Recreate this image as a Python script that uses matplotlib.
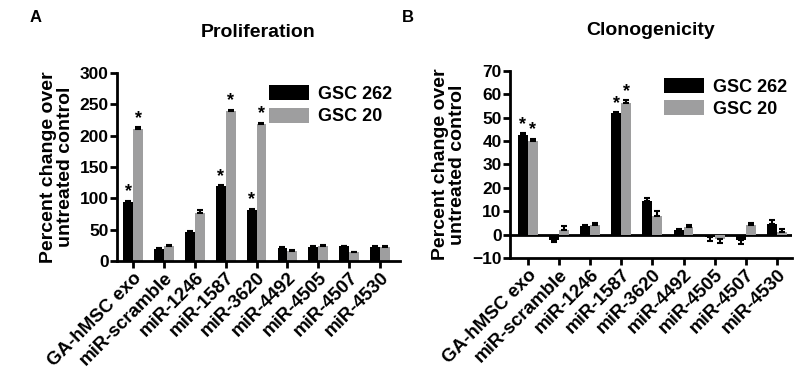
import matplotlib
matplotlib.use("Agg")
import matplotlib.pyplot as plt
import numpy as np
from matplotlib.patches import Patch
import matplotlib.transforms as mtransforms

plt.rcParams['font.family'] = ['Liberation Sans', 'DejaVu Sans']
plt.rcParams['font.weight'] = 'bold'

categories = ["GA-hMSC exo", "miR-scramble", "miR-1246", "miR-1587", "miR-3620",
              "miR-4492", "miR-4505", "miR-4507", "miR-4530"]
series_names = ["GSC 262", "GSC 20"]

prolif_262 = [94, 19, 46, 119, 82, 21, 22, 23, 22]
prolif_262_err = [2, 1, 2, 1.5, 1.5, 1, 1, 1, 1]
prolif_20 = [211, 24, 76, 240, 219, 16, 24, 14, 22]
prolif_20_err = [2, 1, 5, 1.5, 1.5, 1, 1, 1, 1]
prolif_sig_262 = [True, False, False, True, True, False, False, False, False]
prolif_sig_20 = [True, False, False, True, True, False, False, False, False]

clono_262 = [42.5, -2.5, 3.5, 52, 14.5, 2, -1.2, -2.5, 4.5]
clono_262_err = [0.8, 0.8, 0.6, 0.4, 1.2, 0.4, 1.5, 1.5, 1.5]
clono_20 = [40, 2, 4, 56.5, 8, 3, -2, 4, 1]
clono_20_err = [1, 1.5, 1, 1, 2, 1, 1.5, 0.8, 1.5]
clono_sig_262 = [True, False, False, True, False, False, False, False, False]
clono_sig_20 = [True, False, False, True, False, False, False, False, False]

colors = ["#000000", "#9e9e9f"]

fig = plt.figure(figsize=(8.08, 3.82), dpi=100)

def draw(ax, v1, e1, v2, e2, s1, s2, ylim, yticks, title, star_off, xlim, legend_anchor,
         zero_line=False):
    x = np.arange(len(categories))
    w = 0.32
    for vals, errs, sig, col, off in [(v1, e1, s1, colors[0], -w / 2), (v2, e2, s2, colors[1], w / 2)]:
        vals = np.array(vals, dtype=float)
        errs = np.array(errs, dtype=float)
        ax.bar(x + off, vals, width=w, color=col, edgecolor='none', zorder=2)
        lower = np.where(vals < 0, errs, 0)
        upper = np.where(vals >= 0, errs, 0)
        ax.errorbar(x + off, vals, yerr=[lower, upper], fmt='none', ecolor='black',
                    elinewidth=1.5, capsize=2.5, capthick=1.5, zorder=3)
        for xi, v, e, s in zip(x + off, vals, errs, sig):
            if s:
                ax.text(xi, v + e + star_off, "*", ha='center', va='bottom', fontsize=13,
                        fontweight='bold')
    ax.set_xlim(*xlim)
    ax.set_ylim(*ylim)
    ax.set_yticks(yticks)
    ax.set_xticks(x)
    ax.set_xticklabels(categories, rotation=45, ha='right', rotation_mode='anchor',
                       fontsize=13.5, fontweight='bold')
    offset = mtransforms.ScaledTranslation(4 / 72, -2 / 72, fig.dpi_scale_trans)
    for lab in ax.get_xticklabels():
        lab.set_transform(lab.get_transform() + offset)
    ax.tick_params(axis='y', labelsize=12.5)
    ax.spines['top'].set_visible(False)
    ax.spines['right'].set_visible(False)
    ax.spines['left'].set_linewidth(2)
    ax.spines['bottom'].set_linewidth(2)
    ax.tick_params(axis='both', width=2, length=5, direction='out', pad=1)
    if zero_line:
        ax.axhline(0, color='black', lw=2, zorder=1)
    ax.set_ylabel("Percent change over\nuntreated control", fontsize=14, fontweight='bold',
                  linespacing=1.0, labelpad=4)
    ax.set_title(title, fontsize=14, fontweight='bold', pad=26)
    handles = [Patch(facecolor=colors[0], edgecolor='none'),
               Patch(facecolor=colors[1], edgecolor='none')]
    ax.legend(handles, series_names, loc='upper right', frameon=False,
              prop={'size': 13, 'weight': 'bold'}, handlelength=2.2, handleheight=0.9,
              handletextpad=0.5, labelspacing=0.25, bbox_to_anchor=legend_anchor)

ax1 = fig.add_axes([0.145, 0.317, 0.350, 0.492])
draw(ax1, prolif_262, prolif_262_err, prolif_20, prolif_20_err, prolif_sig_262, prolif_sig_20,
     (0, 300), [0, 50, 100, 150, 200, 250, 300], "Proliferation", 1, (-0.52, 8.65),
     (1.03, 1.02))

ax2 = fig.add_axes([0.631, 0.325, 0.349, 0.489])
draw(ax2, clono_262, clono_262_err, clono_20, clono_20_err, clono_sig_262, clono_sig_20,
     (-10, 70), [-10, 0, 10, 20, 30, 40, 50, 60, 70], "Clonogenicity", 0.2, (-0.58, 8.48),
     (1.04, 1.05), zero_line=True)

fig.text(30 / 808, 1 - 17 / 382, "A", fontsize=12, fontweight='bold', va='center', ha='left')
fig.text(402 / 808, 1 - 17 / 382, "B", fontsize=12, fontweight='bold', va='center', ha='left')

fig.savefig("out.png", dpi=100)
